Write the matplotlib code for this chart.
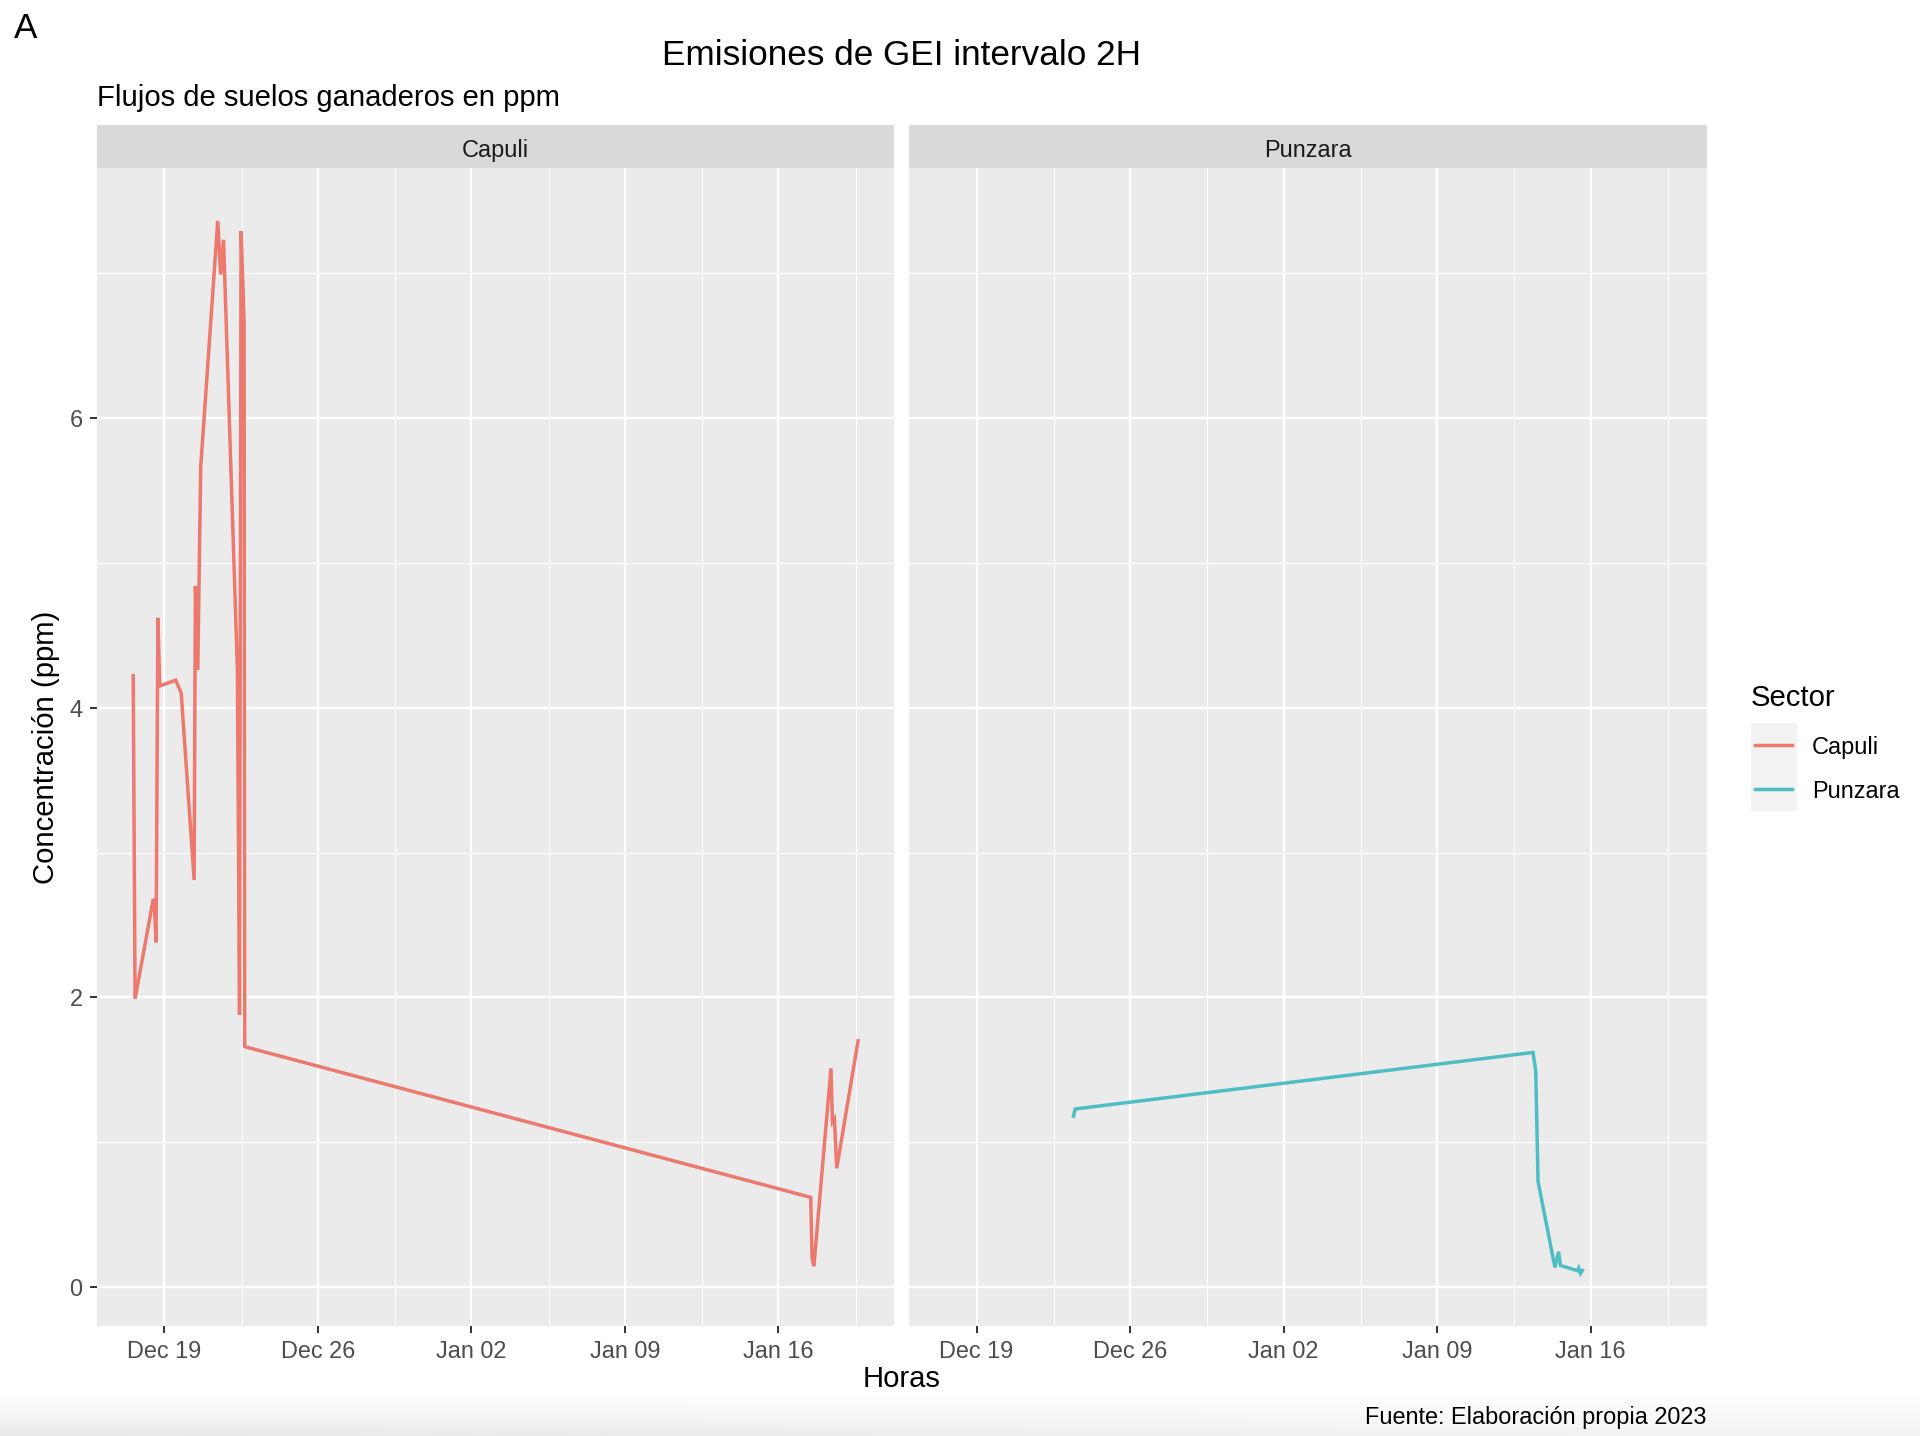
import numpy as np
import pandas as pd
import matplotlib
matplotlib.use("Agg")
import matplotlib.pyplot as plt
import matplotlib.dates as mdates
from matplotlib.patches import Rectangle
from matplotlib.lines import Line2D

plt.rcParams["font.family"] = ["Liberation Sans", "DejaVu Sans"]

# ---- data ----
capuli_time = [
    "2022-12-17 14:00", "2022-12-17 16:00", "2022-12-18 12:00", "2022-12-18 13:00",
    "2022-12-18 15:00", "2022-12-18 17:00", "2022-12-18 19:00", "2022-12-19 12:30",
    "2022-12-19 18:30", "2022-12-20 08:40", "2022-12-20 10:00", "2022-12-20 12:40",
    "2022-12-20 15:50", "2022-12-21 10:30", "2022-12-21 13:40", "2022-12-21 16:50",
    "2022-12-22 08:00", "2022-12-22 10:20", "2022-12-22 12:00", "2022-12-22 15:20",
    "2022-12-22 16:00", "2023-01-17 11:30", "2023-01-17 13:00", "2023-01-17 15:00",
    "2023-01-18 09:40", "2023-01-18 11:20", "2023-01-18 13:30", "2023-01-18 16:00",
    "2023-01-19 15:20",
]
capuli_ppm = [
    4.22, 1.99, 2.68, 2.66, 2.38, 4.62, 4.15, 4.19,
    4.10, 2.81, 4.84, 4.26, 5.66, 7.36, 6.99, 7.23,
    4.26, 1.88, 7.29, 6.67, 1.66, 0.62, 0.20, 0.145,
    1.51, 1.14, 1.16, 0.82, 1.70,
]

punzara_time = [
    "2022-12-23 10:00", "2022-12-23 12:00", "2023-01-13 09:00", "2023-01-13 12:00",
    "2023-01-13 14:30", "2023-01-14 09:00", "2023-01-14 13:00", "2023-01-14 15:00",
    "2023-01-15 10:00", "2023-01-15 11:00", "2023-01-15 13:00", "2023-01-15 15:00",
]
punzara_ppm = [
    1.18, 1.23, 1.62, 1.49, 0.73, 0.136, 0.244, 0.15,
    0.113, 0.13, 0.095, 0.115,
]

sectors = ["Capuli", "Punzara"]
colours = ["#EC786E", "#4EBEC4"]

W, H = 1920, 1436


def fx(px):
    return px / W


def fy(py):
    # py measured from the top of the image
    return 1 - py / H


fig = plt.figure(figsize=(W / 100, H / 100), dpi=100)

# faint screenshot shadow along the bottom
bg = fig.add_axes([0, 0, 1, 1], zorder=-10)
grad = np.ones((200, 2))
rows = np.linspace(0, 1, 200)
grad[:, 0] = 1 - 0.09 * np.clip((rows - 0.6) / 0.4, 0, 1) ** 1.3
grad[:, 1] = 1 - 0.05 * np.clip((rows - 0.6) / 0.4, 0, 1) ** 1.3
bg.imshow(grad, cmap="gray", vmin=0, vmax=1, aspect="auto",
          extent=[0, W, 1436, 1436 - 200 * 0.6], interpolation="bicubic")
bg.set_xlim(0, W)
bg.set_ylim(H, 0)
bg.axis("off")

panel_top, panel_bot = 168.3, 1326.0
lefts = [97.0, 909.3]
pw = 797.3

times = [pd.to_datetime(capuli_time), pd.to_datetime(punzara_time)]
values = [np.array(capuli_ppm), np.array(punzara_ppm)]

# ggplot-like 5% expansion on shared scales
all_t = mdates.date2num(np.concatenate([t.values for t in times]))
all_v = np.concatenate(values)
tpad = 0.05 * (all_t.max() - all_t.min())
vpad = 0.05 * (all_v.max() - all_v.min())

axes = []
for i, name in enumerate(sectors):
    ax = fig.add_axes([fx(lefts[i]), fy(panel_bot), fx(pw), (panel_bot - panel_top) / H],
                      sharex=axes[0] if axes else None, sharey=axes[0] if axes else None)
    ax.set_facecolor("#EBEBEB")
    ax.plot(times[i], values[i], color=colours[i], lw=2.5, solid_joinstyle="miter", zorder=3)
    ax.set_xlim(all_t.min() - tpad, all_t.max() + tpad)
    ax.set_ylim(all_v.min() - vpad, all_v.max() + vpad)

    ax.xaxis.set_major_locator(mdates.WeekdayLocator(byweekday=mdates.MO))
    ax.xaxis.set_major_formatter(mdates.DateFormatter("%b %d"))
    ax.xaxis.set_minor_locator(mdates.RRuleLocator(
        mdates.rrulewrapper(mdates.WEEKLY, byweekday=mdates.TH, byhour=12)))
    ax.set_yticks([0, 2, 4, 6])
    ax.set_yticks([1, 3, 5, 7], minor=True)

    ax.grid(which="major", color="white", lw=1.7)
    ax.grid(which="minor", color="white", lw=0.85)
    ax.set_axisbelow(True)
    for s in ax.spines.values():
        s.set_visible(False)
    ax.tick_params(which="major", length=5.3, width=1.4, color="#333333",
                   labelsize=16.9, labelcolor="#4D4D4D")
    ax.tick_params(axis="x", which="major", pad=4.8)
    ax.tick_params(axis="y", which="major", pad=5.2)
    ax.tick_params(which="minor", length=0)
    if i > 0:
        ax.tick_params(axis="y", which="both", left=False, labelleft=False)

    strip = fig.add_axes([fx(lefts[i]), fy(panel_top), fx(pw), 43.3 / H])
    strip.set_facecolor("#D9D9D9")
    strip.set_xticks([])
    strip.set_yticks([])
    for s in strip.spines.values():
        s.set_visible(False)
    strip.text(0.5, 0.42, name, ha="center", va="center", fontsize=16.9,
               color="#1A1A1A", transform=strip.transAxes)
    axes.append(ax)

centre = fx(lefts[0] + (lefts[1] + pw - lefts[0]) / 2)
fig.text(fx(14), fy(12), "A", fontsize=25.3, ha="left", va="top")
fig.text(centre, fy(65), "Emisiones de GEI intervalo 2H", fontsize=25.3,
         ha="center", va="baseline")
fig.text(fx(97), fy(106.5), "Flujos de suelos ganaderos en ppm", fontsize=21.1,
         ha="left", va="baseline")
fig.text(centre, fy(1387), "Horas", fontsize=21.1, ha="center", va="baseline")
fig.text(fx(46.5), fy((panel_top + panel_bot) / 2), "Concentración (ppm)", fontsize=21.1,
         rotation=90, ha="center", va="center")
fig.text(fx(1706.7), fy(1424), "Fuente: Elaboración propia 2023", fontsize=16.9,
         ha="right", va="baseline")

# legend, drawn by hand in ggplot style
fig.text(fx(1751), fy(706.5), "Sector", fontsize=21.1, ha="left", va="baseline")
fig.add_artist(Rectangle((fx(1751), fy(810.7)), fx(45.7), (810.7 - 722.7) / H,
                         transform=fig.transFigure, facecolor="#F2F2F2", edgecolor="none"))
for name, col, yy in zip(sectors, colours, [744.7, 789.0]):
    fig.add_artist(Line2D([fx(1755), fx(1791.7)], [fy(yy), fy(yy)], color=col, lw=2.5,
                          transform=fig.transFigure))
    fig.text(fx(1811.7), fy(yy), name, fontsize=16.9, ha="left", va="center_baseline")

fig.savefig("out.png", dpi=100)
